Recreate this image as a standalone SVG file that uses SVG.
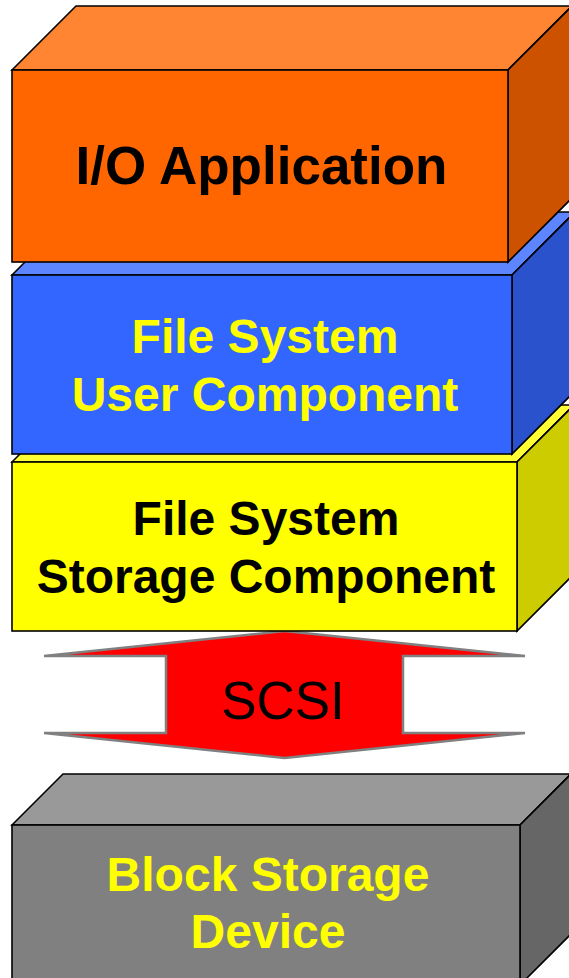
<svg xmlns="http://www.w3.org/2000/svg" width="569" height="978" viewBox="0 0 569 978">
  <style>
    .edge { stroke: #000000; stroke-width: 1.6; stroke-linejoin: miter; }
    .lbl { font-family: "Liberation Sans", Arial, sans-serif; font-weight: bold; font-size: 48px; text-anchor: middle; }
    .dark { fill: #000000; }
    .yel { fill: #FFFF00; }
  </style>
  <rect width="569" height="978" fill="#FFFFFF"/>

  <!-- bottom layer: block device -->
  <g id="block-storage-device">
    <polygon class="edge" fill="#999999" points="12,825 63,774 571,774 520,825"/>
    <polygon class="edge" fill="#666666" points="520,825 571,774 571,934 520,985"/>
    <rect class="edge" fill="#808080" x="12" y="825" width="508" height="160"/>
    <text class="lbl yel" x="268" y="891">Block Storage</text>
    <text class="lbl yel" x="268" y="948">Device</text>
  </g>

  <!-- double-headed SCSI link -->
  <g id="connectors">
    <g id="scsi">
      <polygon fill="#FF0000" stroke="#808080" stroke-width="2.5" stroke-linejoin="miter"
        points="284.5,631 525,656 403,656 403,733 525,733 284.5,758 44,733 166,733 166,656 44,656"/>
      <text x="283" y="719" font-family="'Liberation Sans', Arial, sans-serif" font-size="53" text-anchor="middle" fill="#000000">SCSI</text>
    </g>
  </g>

  <!-- file system storage component -->
  <g id="fs-storage-component">
    <polygon class="edge" fill="#FFFF33" points="12,462 69,405 574,405 517,462"/>
    <polygon class="edge" fill="#CCCC00" points="517,462 574,405 574,574 517,631"/>
    <rect class="edge" fill="#FFFF00" x="12" y="462" width="505" height="169"/>
    <text class="lbl dark" x="266" y="535">File System</text>
    <text class="lbl dark" x="266" y="593">Storage Component</text>
  </g>

  <!-- file system user component -->
  <g id="fs-user-component">
    <polygon class="edge" fill="#5C85FF" points="12,275 75,212 575,212 512,275"/>
    <polygon class="edge" fill="#2952CC" points="512,275 575,212 575,391 512,454"/>
    <rect class="edge" fill="#3366FF" x="12" y="275" width="500" height="179"/>
    <text class="lbl yel" x="265" y="353">File System</text>
    <text class="lbl yel" x="265" y="411">User Component</text>
  </g>

  <!-- top layer: application -->
  <g id="io-application">
    <polygon class="edge" fill="#FF8533" points="12,70 76,6 572,6 508,70"/>
    <polygon class="edge" fill="#CC5200" points="508,70 572,6 572,198 508,262"/>
    <rect class="edge" fill="#FF6600" x="12" y="70" width="496" height="192"/>
    <text class="lbl dark" x="261.5" y="184" style="font-size:53px">I/O Application</text>
  </g>
</svg>
